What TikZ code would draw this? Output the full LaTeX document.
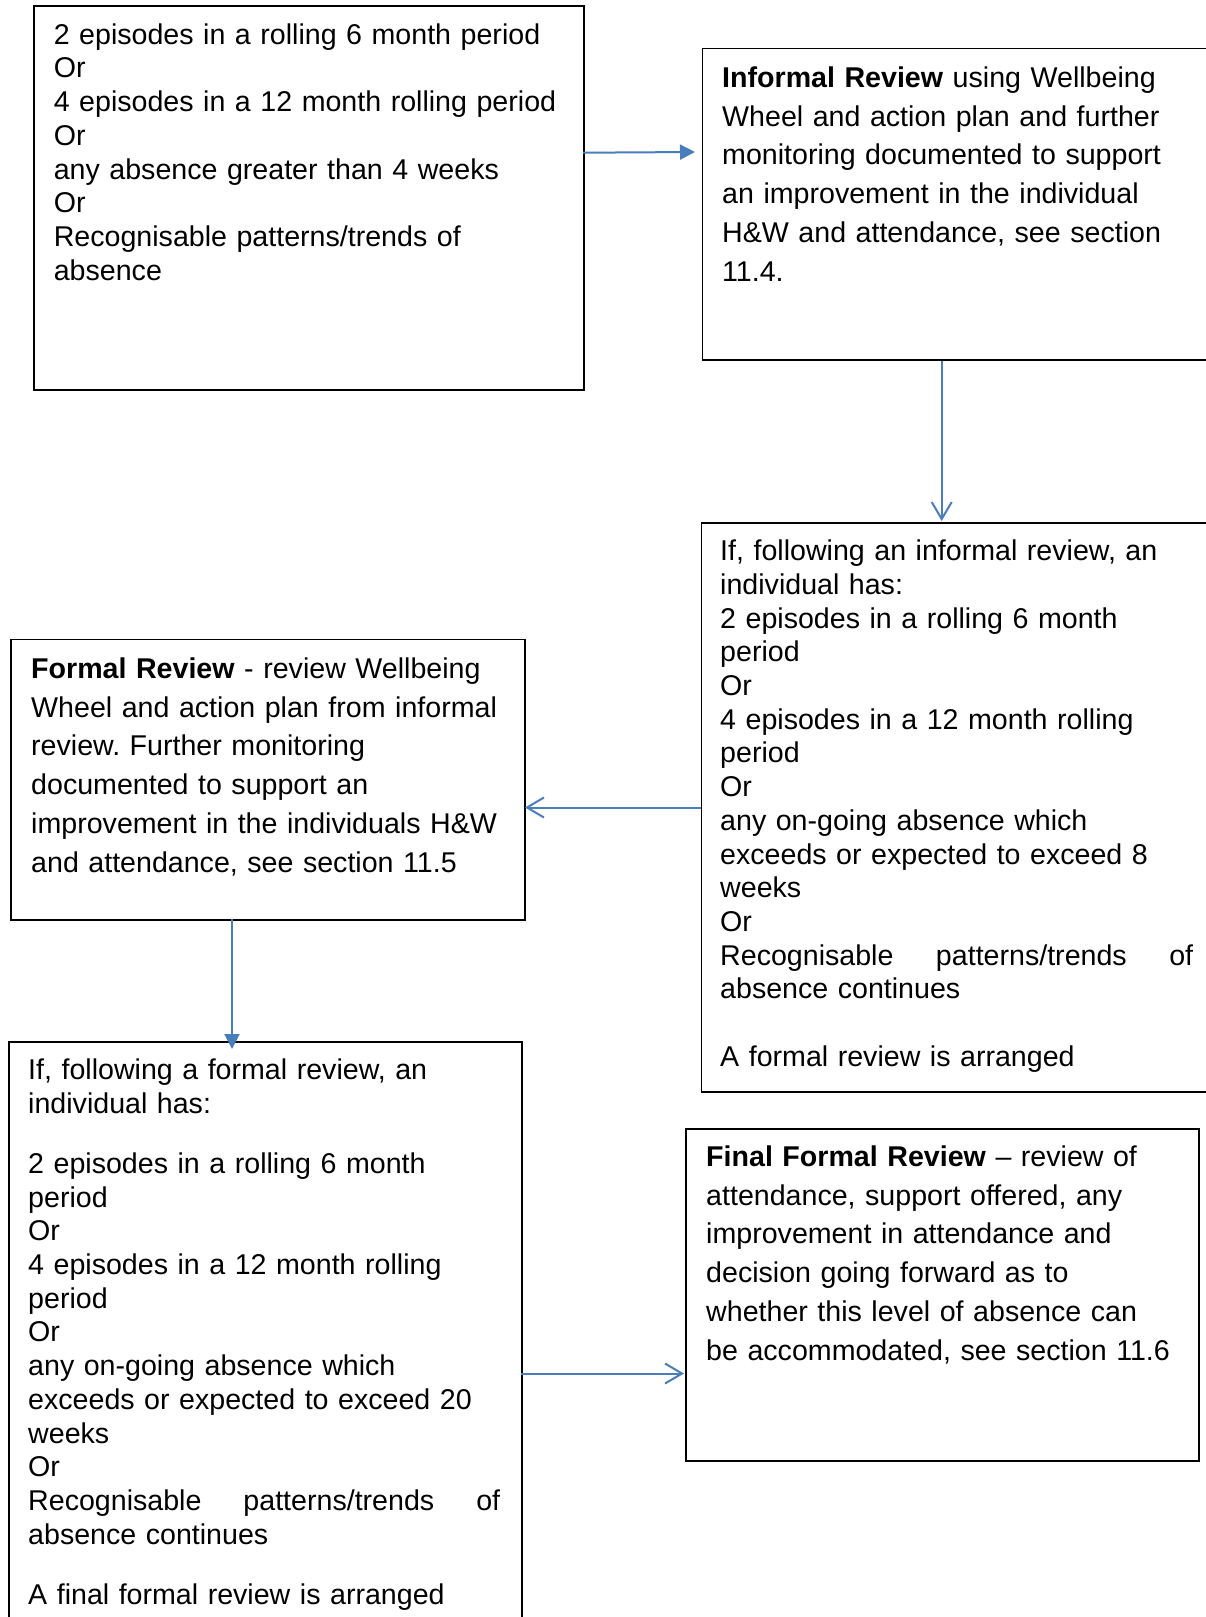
\documentclass[tikz,border=0pt]{standalone}
\usepackage{fontspec}
\setmainfont{Liberation Sans}
\usetikzlibrary{arrows.meta}
\definecolor{arrowblue}{RGB}{74,126,187}
\frenchspacing
\begin{document}
\begin{tikzpicture}[x=1pt,y=-1pt,
  box/.style={draw=black, line width=1.6pt, rectangle, inner sep=0pt, anchor=north west},
  txt/.style={anchor=north west, inner sep=0pt, align=left, font=\fontsize{28.6}{33.7}\selectfont},
  txtw/.style={anchor=north west, inner sep=0pt, align=left, font=\fontsize{28.6}{38.8}\selectfont},
  conn/.style={draw=arrowblue, line width=2pt},
  tipfill/.style={-{Triangle[length=15pt,width=15pt]}},
  tipopen/.style={-{Straight Barb[length=17pt,width=20pt,line width=2pt]}}]
\clip (0,0) rectangle (1206,1617);
\fill[white] (0,0) rectangle (1206,1617);

% boxes
\node[box, minimum width=550pt, minimum height=384pt] (b1) at (33,5) {};
\node[box, minimum width=520pt, minimum height=311.5pt] (b2) at (701.5,47.5) {};
\node[box, minimum width=520pt, minimum height=569pt] (b3) at (700.5,522) {};
\node[box, minimum width=513.7pt, minimum height=280.4pt] (b4) at (10.3,638.6) {};
\node[box, minimum width=512.7pt, minimum height=620pt] (b5) at (8.3,1041) {};
\node[box, minimum width=513pt, minimum height=332pt] (b6) at (685,1128) {};

% texts
\node[txt, text width=515pt] (t1) at (53.6,22) {\rule{0pt}{22pt}2 episodes in a rolling 6 month period\\
Or\\
4 episodes in a 12 month rolling period\\
Or\\
any absence greater than 4 weeks\\
Or\\
Recognisable patterns/trends of\\
absence};

\node[txtw, text width=475pt] (t2) at (722,65) {\rule{0pt}{22pt}\textbf{Informal Review} using Wellbeing\\
Wheel and action plan and further\\
monitoring documented to support\\
an improvement in the individual\\
H\&W and attendance, see section\\
11.4.};

\node[txt, text width=473pt] (t3) at (720,538.5) {\rule{0pt}{22pt}If, following an informal review, an\\
individual has:\\
2 episodes in a rolling 6 month\\
period\\
Or\\
4 episodes in a 12 month rolling\\
period\\
Or\\
any on-going absence which\\
exceeds or expected to exceed 8\\
weeks\\
Or\\
Recognisable\hfill patterns/trends\hfill of\\
absence continues\\[33.7pt]
A formal review is arranged};

\node[txtw, text width=485pt] (t4) at (31,656) {\rule{0pt}{22pt}\textbf{Formal Review} - review Wellbeing\\
Wheel and action plan from informal\\
review. Further monitoring\\
documented to support an\\
improvement in the individuals H\&W\\
and attendance, see section 11.5};

\node[txt, text width=472pt] (t5) at (28,1057.5) {\rule{0pt}{22pt}If, following a formal review, an\\
individual has:\\[26.3pt]
2 episodes in a rolling 6 month\\
period\\
Or\\
4 episodes in a 12 month rolling\\
period\\
Or\\
any on-going absence which\\
exceeds or expected to exceed 20\\
weeks\\
Or\\
Recognisable\hfill patterns/trends\hfill of\\
absence continues\\[26.3pt]
A final formal review is arranged};

\node[txtw, text width=485pt] (t6) at (706,1144) {\rule{0pt}{22pt}\textbf{Final Formal Review} -- review of\\
attendance, support offered, any\\
improvement in attendance and\\
decision going forward as to\\
whether this level of absence can\\
be accommodated, see section 11.6};

% connector ends
\coordinate (a1s) at (583,152.7);
\coordinate (a1e) at (695,152);
\coordinate (a2s) at (941.7,361);
\coordinate (a2e) at (941.7,521);
\coordinate (a3s) at (700.5,807.5);
\coordinate (a3e) at (525,807.5);
\coordinate (a4s) at (232,919);
\coordinate (a4e) at (232,1049);
\coordinate (a5s) at (521,1373.5);
\coordinate (a5e) at (684,1373.5);

\draw[conn,tipfill] (a1s) -- (a1e);
\draw[conn,tipopen] (a2s) -- (a2e);
\draw[conn,tipopen] (a3s) -- (a3e);
\draw[conn,tipfill] (a4s) -- (a4e);
\draw[conn,tipopen] (a5s) -- (a5e);
\end{tikzpicture}
\end{document}
